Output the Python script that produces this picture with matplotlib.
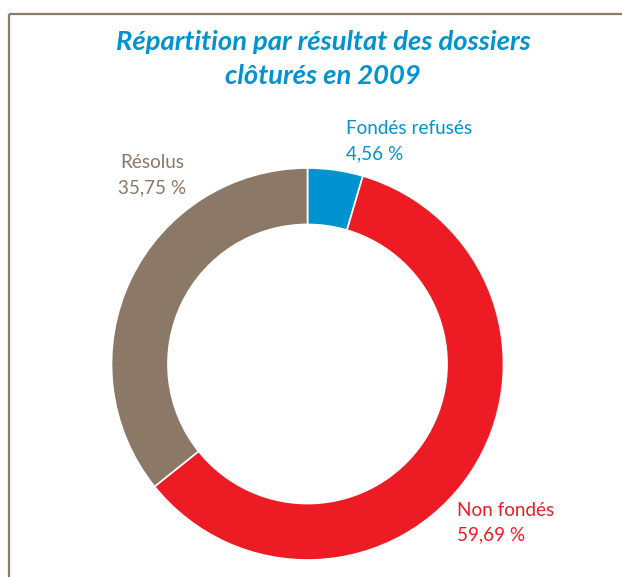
import matplotlib
matplotlib.use("Agg")
import matplotlib.pyplot as plt

# Data
categories = ["Fondés refusés", "Non fondés", "Résolus"]
values = [4.56, 59.69, 35.75]
value_labels = ["4,56 %", "59,69 %", "35,75 %"]
colors = ["#0093d0", "#ed1c24", "#8b7866"]
title_lines = ["Répartition par résultat des dossiers", "clôturés en 2009"]

W, H = 622, 577
fig = plt.figure(figsize=(W / 100, H / 100), dpi=100)
ax = fig.add_axes([0, 0, 1, 1])
ax.set_xlim(0, W)
ax.set_ylim(0, H)
ax.set_aspect("equal")
ax.axis("off")

# frame lines (top and left)
frame_color = "#8a7b6b"
ax.plot([9, W], [H - 14, H - 14], color=frame_color, lw=1.6, solid_capstyle="butt")
ax.plot([9, 9], [H - 14, 0], color=frame_color, lw=1.6, solid_capstyle="butt")

# donut
cx, cy, r = 307.5, H - 364, 196
ax.pie(values, colors=colors, startangle=90, counterclock=False,
       center=(cx, cy), radius=r, frame=True,
       wedgeprops=dict(width=r * 0.288, edgecolor="white", linewidth=1.2))
ax.set_xlim(0, W)
ax.set_ylim(0, H)
ax.axis("off")

# title
ax.text(323, H - 42, title_lines[0], ha="center", va="center", color="#0093d0",
        fontsize=19.7, fontweight="bold", fontstyle="italic", family="Lato")
ax.text(323, H - 76, title_lines[1], ha="center", va="center", color="#0093d0",
        fontsize=19.7, fontweight="bold", fontstyle="italic", family="Lato")

lab_fs = 13.6
# Fondés refusés
ax.text(346, H - 129, categories[0], ha="left", va="center", color=colors[0],
        fontsize=lab_fs, family="Lato")
ax.text(346, H - 154, value_labels[0], ha="left", va="center", color=colors[0],
        fontsize=lab_fs, family="Lato")
# Non fondés
ax.text(457, H - 510, categories[1], ha="left", va="center", color=colors[1],
        fontsize=lab_fs, family="Lato")
ax.text(457, H - 535, value_labels[1], ha="left", va="center", color=colors[1],
        fontsize=lab_fs, family="Lato")
# Résolus
ax.text(152, H - 163, categories[2], ha="center", va="center", color=colors[2],
        fontsize=lab_fs, family="Lato")
ax.text(152, H - 188, value_labels[2], ha="center", va="center", color=colors[2],
        fontsize=lab_fs, family="Lato")

fig.savefig("out.png", dpi=100)
